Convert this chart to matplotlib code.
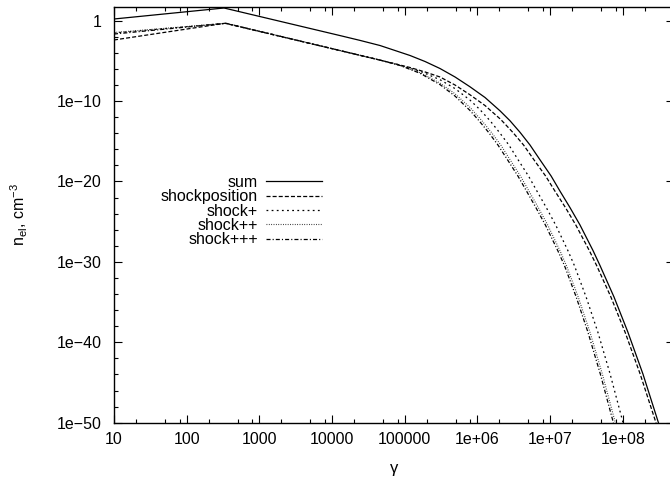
import matplotlib
matplotlib.use("Agg")
import matplotlib.pyplot as plt
from matplotlib.ticker import FixedLocator, FuncFormatter, LogLocator, NullFormatter

plt.rcParams['font.family'] = ['Liberation Sans', 'DejaVu Sans']
plt.rcParams['mathtext.fontset'] = 'custom'
plt.rcParams['mathtext.rm'] = 'Liberation Sans'
plt.rcParams['mathtext.it'] = 'Liberation Sans:italic'
plt.rcParams['lines.scale_dashes'] = False

# ---- data ----
# common n-levels on the steep cut-off branch
cut_n = [3.6e-13, 1.3e-14, 3.5e-16, 5.0e-18, 4.8e-20, 6.6e-22, 5.8e-24, 3.9e-26,
         2.6e-29, 3.6e-31, 4.3e-35, 1.9e-39, 1.1e-44, 1.5e-50, 3.4e-52]

sum_gamma = [10, 326, 1.29e4, 2.42e4, 4.56e4, 7.33e4, 1.18e5, 1.90e5, 3.05e5, 4.91e5,
             7.89e5, 1.27e6, 2.04e6,
             2.80e6, 3.85e6, 5.27e6, 7.24e6, 1.03e7, 1.36e7, 1.87e7, 2.57e7, 3.88e7,
             4.84e7, 7.55e7, 1.17e8, 1.89e8, 3.04e8, 3.45e8]
sum_n = [1.63, 38, 1.40e-2, 3.55e-3, 8.2e-4, 1.97e-4, 4.7e-5, 8.4e-6, 1.13e-6, 1.0e-7,
         6.0e-9, 2.8e-10, 6.2e-12] + cut_n

pos_gamma = [10, 336, 1.29e4, 4.56e4, 1.18e5, 1.90e5, 3.05e5, 4.91e5, 7.89e5, 1.27e6, 2.04e6,
             2.17e6, 3.06e6, 4.30e6, 5.98e6, 8.65e6, 1.16e7, 1.62e7, 2.25e7, 3.45e7,
             4.35e7, 6.84e7, 1.07e8, 1.73e8, 2.81e8, 3.18e8]
pos_n = [4.0e-3, 0.475, 1.91e-4, 1.26e-5, 1.51e-6, 4.2e-7, 1.0e-7, 1.0e-8, 6.1e-10,
         2.8e-11, 6.3e-13] + cut_n

p1_gamma = [10, 347, 4.56e4, 8.59e4, 1.62e5, 3.05e5, 4.91e5, 7.89e5, 1.08e6,
            1.49e6, 2.00e6, 2.70e6, 3.62e6, 5.03e6, 6.56e6, 8.83e6, 1.19e7, 1.75e7,
            2.15e7, 3.12e7, 4.52e7, 6.68e7, 9.93e7, 1.10e8]
p1_n = [2.95e-2, 0.475, 1.26e-5, 3.0e-6, 5.2e-7, 4.6e-8, 3.6e-9, 1.33e-10, 8.8e-12] + cut_n

p2_gamma = [10, 347, 4.56e4, 8.59e4, 1.62e5, 3.05e5, 4.91e5, 7.89e5,
            1.15e6, 1.55e6, 2.09e6, 2.81e6, 3.90e6, 5.09e6, 6.86e6, 9.24e6, 1.36e7,
            1.67e7, 2.43e7, 3.52e7, 5.22e7, 7.78e7, 8.65e7]
p2_n = [3.4e-2, 0.475, 1.26e-5, 2.8e-6, 3.5e-7, 1.73e-8, 8.1e-10, 1.64e-11] + cut_n

p3_gamma = [10, 347, 4.56e4, 8.59e4, 1.62e5, 3.05e5, 4.91e5, 7.89e5,
            1.05e6, 1.42e6, 1.91e6, 2.59e6, 3.60e6, 4.72e6, 6.35e6, 8.59e6, 1.27e7,
            1.57e7, 2.28e7, 3.30e7, 4.90e7, 7.31e7, 8.11e7]
p3_n = [2.2e-2, 0.475, 1.26e-5, 2.7e-6, 2.9e-7, 1.13e-8, 4.2e-10, 6.8e-12] + cut_n

labels = ['sum', 'shockposition', 'shock+', 'shock++', 'shock+++']
x_ticks = [10, 100, 1000, 10000, 100000, 1e6, 1e7, 1e8]
y_ticks = [1e-50, 1e-40, 1e-30, 1e-20, 1e-10, 1]

# ---- figure ----
fig = plt.figure(figsize=(6.7, 4.78), dpi=100)
ax = fig.add_axes([114/670, (478-422.7)/478, (673.7-114)/670, (422.7-6.7)/478])

lw = 0.9
ax.plot(sum_gamma, sum_n, color='black', lw=lw, label=labels[0])
ax.plot(pos_gamma, pos_n, color='black', lw=lw, dashes=(2.9, 1.5), label=labels[1])
ax.plot(p1_gamma, p1_n, color='black', lw=lw, dashes=(1.3, 2.4), label=labels[2])
ax.plot(p2_gamma, p2_n, color='#222222', lw=0.8, dashes=(0.6, 1.1), label=labels[3])
ax.plot(p3_gamma, p3_n, color='black', lw=lw, dashes=(2.9, 1.5, 0.8, 1.5), label=labels[4])

ax.set_xscale('log')
ax.set_yscale('log')
ax.set_xlim(10, 5e8)
ax.set_ylim(1e-50, 10**1.741)

fmt = FuncFormatter(lambda v, p: ('%g' % v).replace('-', '\u2212'))
ax.xaxis.set_major_locator(FixedLocator(x_ticks))
ax.xaxis.set_major_formatter(fmt)
ax.xaxis.set_minor_locator(LogLocator(base=10, subs=(2, 5, 8), numticks=50))
ax.xaxis.set_minor_formatter(NullFormatter())
ax.yaxis.set_major_locator(FixedLocator(y_ticks))
ax.yaxis.set_major_formatter(fmt)
ax.yaxis.set_minor_locator(FixedLocator([10.0**(-k) for k in range(2, 50, 2) if k % 10 != 0]))
ax.yaxis.set_minor_formatter(NullFormatter())

ax.tick_params(which='both', direction='in', top=True, right=True, width=0.8, color='black')
ax.tick_params(which='major', length=6)
ax.tick_params(which='minor', length=3)
ax.tick_params(axis='x', which='major', labelsize=11.5, pad=7)
ax.tick_params(axis='y', which='major', labelsize=11.5, pad=9)
for s in ax.spines.values():
    s.set_linewidth(1.0)

ax.set_xlabel('\u03b3', fontsize=12, labelpad=10)
ax.set_ylabel(r'n$_{\mathrm{el}}$, cm$^{-3}$', fontsize=11.5, labelpad=19)

leg = ax.legend(loc='upper right', bbox_to_anchor=((322-114)/(673.7-114), (422.7-175)/416.0),
                markerfirst=False, frameon=False, fontsize=11.5, handlelength=3.5,
                handletextpad=0.5, labelspacing=-0.04, borderpad=0, borderaxespad=0)

fig.savefig('out.png', dpi=100)
